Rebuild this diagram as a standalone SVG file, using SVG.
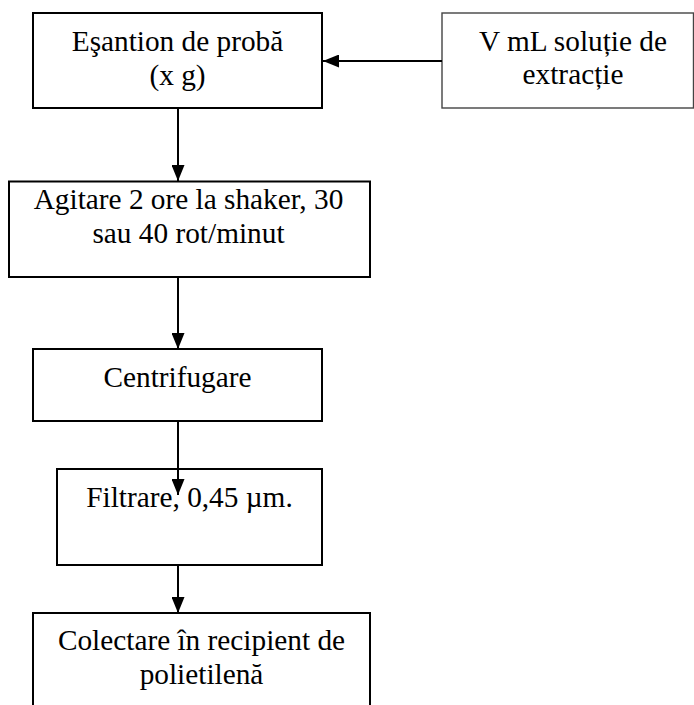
<svg xmlns="http://www.w3.org/2000/svg" width="694" height="705" viewBox="0 0 694 705">
<style>
.box{fill:#fff;stroke:#000;stroke-width:2}
.box2{fill:#fff;stroke:#444;stroke-width:1.4}
.t{font-family:"Liberation Serif","Times New Roman",serif;font-size:29.3px;fill:#000;text-anchor:middle}
.c{stroke:#000;stroke-width:2;fill:none}
</style>
<defs>
<marker id="ah" viewBox="0 0 16 13" refX="16" refY="6.5" markerWidth="16" markerHeight="13" markerUnits="userSpaceOnUse" orient="auto">
<path d="M0,0 L16,6.5 L0,13 Z" fill="#000"/>
</marker>
</defs>
<rect width="694" height="705" fill="#fff"/>
<g id="n1"><rect class="box" x="33" y="13" width="289" height="95"/>
<text class="t" x="177.5" y="51">Eşantion de probă</text>
<text class="t" x="177.5" y="85">(x g)</text></g>
<g id="n0"><rect class="box2" x="442" y="13" width="251.5" height="95"/>
<text class="t" x="573" y="51">V mL soluție de</text>
<text class="t" x="573" y="84">extracție</text></g>
<g id="n2"><rect class="box" x="9" y="181.5" width="361" height="95.5"/>
<text class="t" x="188.5" y="209">Agitare 2 ore la shaker, 30</text>
<text class="t" x="188.5" y="243">sau 40 rot/minut</text></g>
<g id="n3"><rect class="box" x="33" y="349" width="289" height="72"/>
<text class="t" x="177.5" y="387">Centrifugare</text></g>
<g id="n4"><rect class="box" x="57" y="469" width="265" height="96"/>
<text class="t" x="189.5" y="507">Filtrare, 0,45 µm.</text></g>
<g id="n5"><rect class="box" x="33" y="613" width="337" height="110"/>
<text class="t" x="201.5" y="650">Colectare în recipient de</text>
<text class="t" x="201.5" y="684">polietilenă</text></g>
<g id="connectors">
<line class="c" x1="442" y1="61" x2="323" y2="61" marker-end="url(#ah)"/>
<line class="c" x1="178" y1="108" x2="178" y2="181" marker-end="url(#ah)"/>
<line class="c" x1="178" y1="277" x2="178" y2="349" marker-end="url(#ah)"/>
<line class="c" x1="178" y1="421" x2="178" y2="495" marker-end="url(#ah)"/>
<line class="c" x1="178" y1="565" x2="178" y2="613" marker-end="url(#ah)"/>
</g>
</svg>
